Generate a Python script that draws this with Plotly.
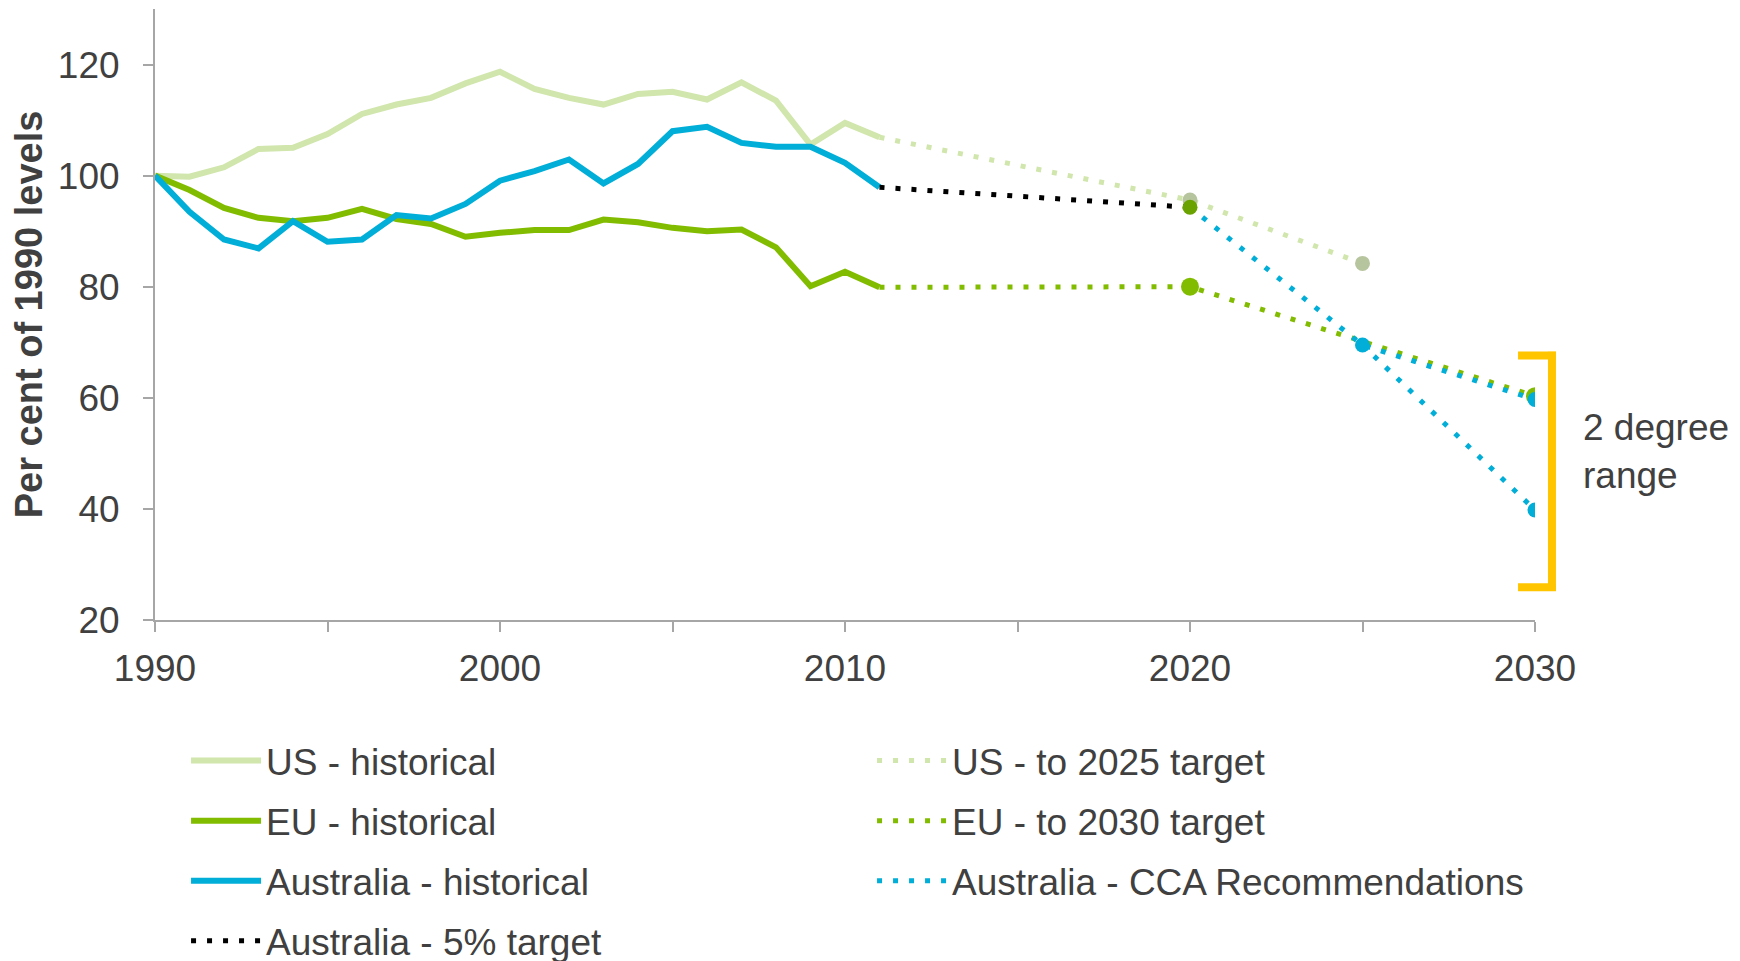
import plotly.graph_objects as go

# emissions, per cent of 1990 levels
years_hist = list(range(1990, 2012))
us_hist = [100, 99.8, 101.5, 104.8, 105, 107.5, 111.1, 112.8, 114, 116.6, 118.7,
           115.6, 114, 112.8, 114.7, 115.1, 113.7, 116.8, 113.5, 105.6, 109.5, 106.9]
eu_hist = [100, 97.4, 94.2, 92.4, 91.8, 92.4, 94, 92.2, 91.3, 89, 89.7,
           90.2, 90.2, 92.1, 91.6, 90.6, 90, 90.3, 87.1, 80.1, 82.7, 79.9]
aus_hist = [100, 93.5, 88.5, 86.9, 91.8, 88.1, 88.5, 92.9, 92.3, 94.9, 99.1,
            100.8, 102.9, 98.6, 102.1, 108, 108.8, 105.9, 105.2, 105.2, 102.3, 97.9]

us_target_years = [2011, 2020, 2025]
us_target = [106.9, 95.6, 84.2]
eu_target_years = [2011, 2020, 2030]
eu_target = [79.9, 80, 60.3]
aus_5pct_years = [2011, 2020]
aus_5pct = [97.9, 94.3]
aus_cca_years = [2020, 2025, 2030]
aus_cca_upper = [94.3, 69.5, 59.7]
aus_cca_low_years = [2025, 2030]
aus_cca_lower = [69.5, 39.8]

bracket_top, bracket_bottom = 67.6, 25.9

c_us = '#d0e6ac'
c_eu = '#82bc00'
c_aus = '#00aed8'
c_text = '#404040'
c_axis = '#a6a6a6'
dots = '5px,11px'
font = 'Arial, Liberation Sans, sans-serif'

fig = go.Figure()

# column 1 of legend
fig.add_trace(go.Scatter(x=years_hist, y=us_hist, name='US - historical', mode='lines',
                         line=dict(color=c_us, width=6), legend='legend', legendgroup='a'))
fig.add_trace(go.Scatter(x=years_hist, y=eu_hist, name='EU - historical', mode='lines',
                         line=dict(color=c_eu, width=6), legend='legend', legendgroup='b'))
fig.add_trace(go.Scatter(x=years_hist, y=aus_hist, name='Australia - historical', mode='lines',
                         line=dict(color=c_aus, width=6), legend='legend', legendgroup='c'))

# column 2 of legend
fig.add_trace(go.Scatter(x=us_target_years, y=us_target, name='US - to 2025 target', mode='lines',
                         line=dict(color=c_us, width=5, dash=dots), legend='legend2', legendgroup='e'))
fig.add_trace(go.Scatter(x=us_target_years[1:], y=us_target[1:], mode='markers', showlegend=False,
                         marker=dict(color='#b7c59f', size=15)))
fig.add_trace(go.Scatter(x=eu_target_years, y=eu_target, name='EU - to 2030 target', mode='lines',
                         line=dict(color=c_eu, width=5, dash=dots), legend='legend2', legendgroup='f'))
fig.add_trace(go.Scatter(x=eu_target_years[1:], y=eu_target[1:], mode='markers', showlegend=False,
                         marker=dict(color=c_eu, size=18)))

fig.add_trace(go.Scatter(x=aus_5pct_years, y=aus_5pct, name='Australia - 5% target', mode='lines',
                         line=dict(color='black', width=5, dash=dots), legend='legend', legendgroup='d'))

fig.add_trace(go.Scatter(x=aus_cca_years, y=aus_cca_upper, name='Australia - CCA Recommendations',
                         mode='lines', line=dict(color=c_aus, width=5, dash=dots),
                         legend='legend2', legendgroup='g'))
fig.add_trace(go.Scatter(x=aus_cca_low_years, y=aus_cca_lower, mode='lines', showlegend=False,
                         line=dict(color=c_aus, width=5, dash=dots)))
fig.add_trace(go.Scatter(x=aus_5pct_years[1:], y=aus_5pct[1:], mode='markers', showlegend=False,
                         marker=dict(color='#6aa300', size=15)))
fig.add_trace(go.Scatter(x=aus_cca_years[1:] + aus_cca_low_years[1:],
                         y=aus_cca_upper[1:] + aus_cca_lower[1:], mode='markers', showlegend=False,
                         marker=dict(color=c_aus, size=15)))

# 2 degree range bracket
fig.add_shape(type='line', xref='paper', yref='y', x0=1.0123, x1=1.0123,
              y0=bracket_top + 0.7, y1=bracket_bottom - 0.7, line=dict(color='#ffc600', width=8))
for yb in (bracket_top, bracket_bottom):
    fig.add_shape(type='line', xref='paper', yref='y', x0=0.9877, x1=1.0152,
                  y0=yb, y1=yb, line=dict(color='#ffc600', width=8))
fig.add_annotation(xref='paper', yref='y', x=1.033, y=50.3, xanchor='left', yanchor='middle',
                   text='2 degree<br>range', showarrow=False, align='left',
                   font=dict(size=37, color=c_text))

# the page puts the figure 8px in from the top-left corner, margins make up for it
fig.update_layout(
    width=1740, height=961,
    margin=dict(l=147, r=213, t=1, b=349, autoexpand=False),
    plot_bgcolor='white', paper_bgcolor='white',
    font=dict(family=font, size=37, color=c_text),
    xaxis=dict(range=[1990, 2030], tickvals=[1990, 2000, 2010, 2020, 2030], ticks='outside',
               ticklen=10, tickcolor=c_axis, tickwidth=2, showline=True, linecolor=c_axis,
               linewidth=2, showgrid=False, zeroline=False, ticklabelstandoff=5,
               minor=dict(tickvals=[1995, 2005, 2015, 2025], ticks='outside', ticklen=10,
                          tickcolor=c_axis, tickwidth=2, showgrid=False)),
    yaxis=dict(range=[20, 130], tickvals=[20, 40, 60, 80, 100, 120], ticks='outside',
               ticklen=10, tickcolor=c_axis, tickwidth=2, showline=True, linecolor=c_axis,
               linewidth=2, showgrid=False, zeroline=False, ticklabelstandoff=16,
               automargin=False,
               title=dict(text='<b>Per cent of 1990 levels</b>', font=dict(size=38), standoff=9)),
    legend=dict(x=0.0225, y=-0.180, xanchor='left', yanchor='top', tracegroupgap=9,
                itemwidth=70, bgcolor='rgba(0,0,0,0)', font=dict(size=37, color=c_text)),
    legend2=dict(x=0.5196, y=-0.180, xanchor='left', yanchor='top', tracegroupgap=9,
                 itemwidth=70, bgcolor='rgba(0,0,0,0)', font=dict(size=37, color=c_text)),
)

fig.write_html("out.html")
